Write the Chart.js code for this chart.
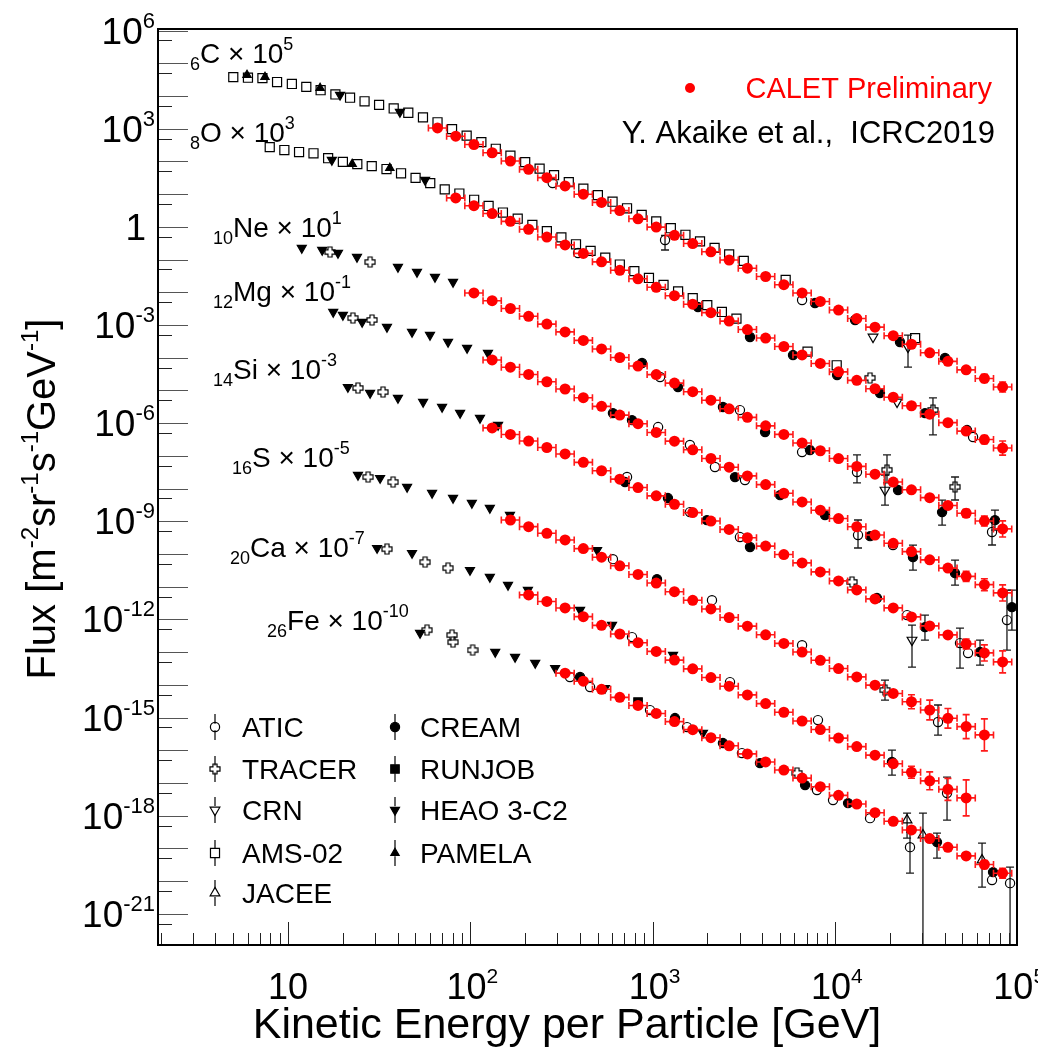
<!DOCTYPE html>
<html>
<head>
<meta charset="utf-8">
<script src="https://cdn.jsdelivr.net/npm/chart.js@4.4.0/dist/chart.umd.min.js"></script>
<style>
  html, body { margin: 0; padding: 0; background: #fff; }
  #wrap { width: 1038px; height: 1049px; position: relative; }
</style>
</head>
<body>
<div id="wrap"><canvas id="myChart"></canvas></div>
<script>
var FONT = '"Liberation Sans", Arial, Helvetica, sans-serif';

// CALET energy bins [GeV], common grid
var caletE = [66.1, 83.2, 104.7, 131.8, 166.0, 208.9, 263.0, 331.1, 416.9, 524.8, 660.7, 831.8,
  1047, 1318, 1660, 2089, 2630, 3311, 4169, 5248, 6607, 8318, 10471, 13183, 16596, 20893,
  26303, 33113, 41687, 52481, 66069, 83176];

// CALET fluxes (already multiplied by the scale factor written in the label)
var caletC = [1.06e3, 594, 331, 185, 103, 57.5, 32.1, 17.9, 10.0, 5.62, 3.15, 1.77, 0.989, 0.553, 0.310, 0.174,
  0.0975, 0.0546, 0.0305, 0.0171, 9.59e-3, 5.26e-3, 2.88e-3, 1.58e-3, 8.63e-4, 4.73e-4, 2.59e-4, 1.42e-4,
  7.78e-5, 4.27e-5, 2.33e-5, 1.28e-5];
var caletO = [7.71, 4.45, 2.56, 1.48, 0.849, 0.490, 0.282, 0.155, 0.0855, 0.0472, 0.0260, 0.0143, 7.89e-3,
  4.35e-3, 2.40e-3, 1.32e-3, 7.28e-4, 4.01e-4, 2.21e-4, 1.22e-4, 6.71e-5, 3.71e-5, 2.04e-5, 1.13e-5, 6.21e-6,
  3.42e-6, 1.89e-6, 1.04e-6, 5.73e-7, 3.16e-7, 1.74e-7];
var caletNe = [9.59e-3, 5.55e-3, 3.21e-3, 1.85e-3, 1.07e-3, 6.19e-4, 3.40e-4, 1.86e-4, 1.02e-4, 5.58e-5, 3.06e-5,
  1.68e-5, 9.20e-6, 5.04e-6, 2.76e-6, 1.51e-6, 8.30e-7, 4.55e-7, 2.49e-7, 1.44e-7, 8.30e-8, 4.79e-8, 2.76e-8,
  1.59e-8, 9.20e-9, 5.31e-9, 3.06e-9, 1.77e-9, 1.02e-9, 5.87e-10];
var caletMg = [8.59e-5, 5.15e-5, 3.09e-5, 1.85e-5, 1.11e-5, 6.03e-6, 3.27e-6, 1.77e-6, 9.64e-7, 5.22e-7, 2.83e-7,
  1.54e-7, 8.34e-8, 4.52e-8, 2.45e-8, 1.33e-8, 7.23e-9, 3.92e-9, 2.19e-9, 1.22e-9, 6.84e-10, 3.82e-10, 2.13e-10,
  1.19e-10, 6.65e-11, 3.72e-11, 2.08e-11, 1.16e-11, 6.49e-12];
var caletSi = [7.18e-7, 4.54e-7, 2.86e-7, 1.81e-7, 1.15e-7, 6.35e-8, 3.52e-8, 1.95e-8, 1.08e-8, 6.01e-9, 3.33e-9,
  1.85e-9, 1.02e-9, 5.68e-10, 3.15e-10, 1.75e-10, 9.68e-11, 5.37e-11, 2.85e-11, 1.51e-11, 8.02e-12, 4.26e-12,
  2.26e-12, 1.20e-12, 6.37e-13, 3.38e-13, 1.79e-13, 9.51e-14, 5.05e-14];
var caletS = [1.10e-9, 6.89e-10, 4.31e-10, 2.70e-10, 1.47e-10, 8.02e-11, 4.38e-11, 2.38e-11, 1.30e-11, 7.08e-12,
  3.86e-12, 2.10e-12, 1.15e-12, 6.25e-13, 3.41e-13, 1.86e-13, 1.01e-13, 5.66e-14, 3.16e-14, 1.76e-14, 9.84e-15,
  5.48e-15, 3.06e-15, 1.71e-15, 9.55e-16, 5.32e-16, 2.97e-16];
var caletCa = [5.64e-12, 3.56e-12, 2.25e-12, 1.22e-12, 6.62e-13, 3.60e-13, 1.95e-13, 1.06e-13, 5.73e-14, 3.10e-14,
  1.68e-14, 9.14e-15, 4.95e-15, 2.69e-15, 1.46e-15, 7.89e-16, 4.33e-16, 2.37e-16, 1.30e-16, 7.13e-17, 3.90e-17,
  2.14e-17, 1.17e-17, 6.43e-18, 3.52e-18];
var caletFe = [2.29e-14, 1.30e-14, 7.35e-15, 4.17e-15, 2.36e-15, 1.34e-15, 7.57e-16, 4.29e-16, 2.43e-16, 1.38e-16,
  7.80e-17, 4.42e-17, 2.50e-17, 1.42e-17, 7.73e-18, 4.21e-18, 2.29e-18, 1.24e-18, 6.78e-19, 3.69e-19, 2.01e-19,
  1.09e-19, 5.94e-20, 3.24e-20, 1.76e-20];

// first CALET bin of each element
var caletFirst = [0, 1, 2, 3, 3, 4, 5, 7];
// relative flux errors of the last few CALET points of each element
var errC = [0.24, 0.33, 0.42];
var errO = [0.24, 0.33, 0.64];
var errNe = [0.33, 0.42, 0.76];
var errMg = [0.42, 0.52, 0.76];
var errSi = [0.42, 0.76, 1.17];
var errS = [0.64, 1.0, 1.0, 1.33, 2.08];
var errCa = [0.52, 0.88, 1.17, 2.55];
var errFe = [0.24, 0.33, 0.42];

// other experiments: [E, flux] or [E, flux, low, high]
var atic = [
  [283, 22.0], [1170, 0.397, 0.197, 0.55], [6606, 5.82e-3],
  [390, 0.159], [57270, 3.78e-7],
  [1099, 2.58e-5], [3014, 2.52e-6], [6606, 1.31e-7], [13220, 3.21e-8, 1.49e-8, 1.07e-7], [72770, 4.71e-10, 1.89e-10, 1.10e-9],
  [1072, 7.62e-7], [1603, 2.15e-7], [2198, 4.57e-8], [3212, 1.83e-8], [13390, 3.81e-10, 1.53e-10, 1.10e-9],
  [20830, 1.88e-10], [87870, 9.59e-13, 1.16e-13, 7.93e-12],
  [724, 2.26e-8], [1603, 1.92e-9], [3014, 3.31e-10], [24880, 1.36e-12], [48550, 1.90e-13, 3.27e-14, 5.47e-13], [53760, 9.40e-14],
  [606, 6.98e-11], [2117, 3.90e-12], [6606, 1.64e-13], [36790, 7.35e-16, 2.94e-16, 2.43e-15],
  [771, 2.90e-13], [2658, 1.22e-14], [8075, 8.41e-16], [41220, 4.93e-18, 7.38e-19, 1.52e-17],
  [352, 1.74e-14], [454, 8.59e-15], [968, 1.70e-15], [1545, 5.14e-16], [3091, 8.24e-17], [7973, 6.10e-18],
  [9766, 3.01e-18], [15590, 8.47e-19], [25820, 1.10e-19, 1.77e-20, 3.17e-19], [72770, 1.08e-20], [91380, 8.73e-21, 1e-24, 2.70e-20]
];
var tracer = [
  [15590, 2.42e-5], [34510, 2.54e-6, 4.38e-7, 5.92e-6],
  [17.0, 0.171], [28.2, 0.0845], [19310, 3.73e-8, 1.49e-8, 1.07e-7], [45610, 1.13e-8, 4.50e-9, 2.27e-8],
  [22.7, 1.64e-3], [28.9, 1.43e-3],
  [24.2, 1.19e-5], [33.2, 8.97e-6], [12420, 1.40e-11],
  [27.5, 2.26e-8], [37.7, 1.59e-8], [18830, 6.98e-15, 3.45e-15, 1.41e-14],
  [34.9, 1.42e-10], [56.5, 5.69e-11], [75.5, 3.73e-11],
  [57.9, 4.75e-13], [79.4, 3.34e-13], [80.4, 2.04e-13], [103, 1.16e-13], [6199, 2.03e-17]
];
var crn = [
  [16190, 4.31e-4], [25180, 2.13e-4, 5.21e-5, 4.95e-4],
  [21920, 4.47e-6],
  [18830, 9.04e-9, 3.15e-9, 2.60e-8],
  [26480, 2.35e-13, 3.52e-14, 6.76e-13]
];
var ams = [
  [5.01, 3.80e4], [6.03, 3.63e4], [7.24, 3.55e4], [8.71, 2.69e4], [10.5, 2.34e4], [12.6, 1.91e4], [15.1, 1.51e4],
  [18.2, 1.12e4], [21.9, 8.91e3], [26.3, 6.92e3], [31.6, 5.37e3], [38.0, 4.17e3], [45.7, 3.09e3], [55.0, 2.24e3],
  [66.1, 1.58e3], [79.4, 977], [95.5, 617], [115, 389], [138, 245], [166, 151], [200, 95.5], [240, 60.3], [288, 38.0],
  [347, 23.4], [417, 14.8], [501, 9.33], [603, 5.89], [724, 3.72], [871, 2.34], [1047, 1.48], [1259, 0.912],
  [1514, 0.575], [1820, 0.363], [2188, 0.229], [2630, 0.145], [3162, 0.0912], [5370, 0.0240], [27540, 3.98e-4],
  [7.94, 275], [9.55, 224], [11.5, 195], [13.8, 178], [16.6, 126], [20.0, 97.7], [24.0, 83.2], [28.8, 72.4],
  [34.7, 58.9], [41.7, 43.7], [50.1, 31.6], [60.3, 21.9], [72.4, 14.1], [87.1, 10.5], [105, 6.76], [126, 4.37],
  [151, 2.75], [182, 1.78], [219, 1.15], [263, 0.741], [316, 0.479], [380, 0.295], [457, 0.186], [550, 0.115],
  [661, 0.0708], [794, 0.0447], [955, 0.0275], [1148, 0.0170], [1380, 0.0107], [1660, 6.61e-3], [1995, 4.07e-3],
  [2399, 2.51e-3], [2884, 1.58e-3], [7079, 1.55e-4], [10230, 5.89e-5]
];
var jacee = [
  [24880, 7.38e-19, 2.08e-19, 1.21e-18], [30410, 2.57e-19, 1e-24, 1.21e-18], [64140, 4.43e-20, 6.59e-21, 1.46e-19]
];
var cream = [
  [7776, 4.71e-3], [12900, 1.43e-3], [22750, 3.03e-4], [40190, 9.82e-5],
  [1774, 3.56e-3], [3422, 4.31e-4], [5891, 1.21e-4], [10280, 2.96e-5], [17670, 8.34e-6], [31190, 2.04e-6], [53060, 6.17e-7],
  [875, 6.90e-5], [1378, 1.27e-5], [2432, 3.12e-6], [4140, 5.37e-7], [7302, 1.51e-7], [22200, 9.04e-9],
  [38720, 1.92e-9, 7.71e-10, 4.48e-9], [75510, 1.09e-9, 5.42e-10, 2.21e-9],
  [606, 2.04e-6], [771, 1.24e-6], [2831, 2.25e-8], [5003, 6.33e-9], [8826, 1.55e-9], [15590, 3.53e-10],
  [26810, 8.06e-11, 3.24e-11, 1.88e-10], [45610, 2.61e-11, 1.13e-11, 6.55e-11], [93550, 2.38e-12, 4.74e-13, 7.93e-12],
  [706, 1.59e-8], [1214, 5.15e-9], [1986, 1.09e-9], [3422, 1.64e-10], [17020, 4.52e-12],
  [31190, 5.86e-13, 2.35e-13, 1.36e-12], [62530, 1.01e-13, 4.05e-14, 2.35e-13],
  [1057, 1.71e-11],
  [20560, 4.39e-17, 1.75e-17, 1.02e-16],
  [400, 1.74e-14], [1327, 9.70e-16], [2432, 1.67e-16], [3882, 4.08e-17], [6859, 8.67e-18], [11810, 2.44e-18],
  [36310, 1.57e-19, 5.08e-20, 2.95e-19], [73690, 1.90e-20]
];
var runjob = [[832, 2.99e-15]];
var heao = [
  [19.3, 1.08e4], [41.1, 3.26e3], [17.4, 111], [56.5, 27.2],
  [11.9, 0.226], [15.4, 0.197], [18.8, 0.159], [23.9, 0.120], [40.1, 0.0594], [51.0, 0.0418], [64.0, 0.0294], [80.4, 0.0207],
  [17.7, 2.50e-3], [20.0, 2.03e-3], [25.5, 1.24e-3], [34.9, 8.71e-4], [47.9, 6.12e-4], [60.1, 4.95e-4], [75.5, 3.03e-4],
  [96.0, 1.99e-4], [125, 1.40e-4],
  [21.3, 1.27e-5], [28.2, 8.35e-6], [40.1, 5.87e-6], [55.1, 4.43e-6], [70.0, 3.12e-6], [87.9, 2.05e-6], [113, 1.44e-6], [142, 8.79e-7],
  [24.2, 2.60e-8], [32.0, 2.10e-8], [45.0, 1.12e-8], [61.7, 7.33e-9], [80.4, 5.15e-9], [102, 3.62e-9], [128, 2.55e-9],
  [165, 1.56e-9], [496, 1.32e-10],
  [30.8, 1.52e-10], [47.9, 1.07e-10], [99.6, 3.24e-11], [128, 1.98e-11], [161, 1.13e-11], [207, 7.93e-12],
  [400, 1.95e-12], [599, 6.79e-13], [1294, 8.20e-14],
  [53.0, 3.85e-13], [137, 1.01e-13], [176, 7.10e-14], [227, 4.66e-14], [292, 3.27e-14], [548, 8.0e-15], [1888, 3.40e-16]
];
var pamela = [[5.96, 4.41e4], [7.48, 3.83e4], [15.0, 1.76e4], [22.5, 83.8], [36.2, 63.2]];

var yTickExp = [6, 3, 0, -3, -6, -9, -12, -15, -18, -21];
var xTickExp = [1, 2, 3, 4, 5];

// ---------- helpers ----------
var binHalf = 1.122; // half of a 0.1-decade bin

function openCross(size) {
  var c = document.createElement('canvas');
  c.width = size; c.height = size;
  var g = c.getContext('2d');
  var m = size / 2, w = size * 0.17, s = size / 2 - 1;
  g.beginPath();
  g.moveTo(m - w, m - s); g.lineTo(m + w, m - s); g.lineTo(m + w, m - w); g.lineTo(m + s, m - w);
  g.lineTo(m + s, m + w); g.lineTo(m + w, m + w); g.lineTo(m + w, m + s); g.lineTo(m - w, m + s);
  g.lineTo(m - w, m + w); g.lineTo(m - s, m + w); g.lineTo(m - s, m - w); g.lineTo(m - w, m - w);
  g.closePath();
  g.strokeStyle = '#000'; g.lineWidth = 1.2; g.stroke();
  return c;
}
var crossImg = openCross(12);

function caletSet(flux, first, tail) {
  var data = [], rel = [];
  for (var i = 0; i < flux.length; i++) {
    data.push({ x: caletE[first + i], y: flux[i] });
    var k = i - (flux.length - tail.length);
    rel.push(k >= 0 ? tail[k] : 0);
  }
  return {
    label: 'CALET', data: data, relErr: rel, calet: true, showLine: false,
    pointStyle: 'circle', pointRadius: 5.5, pointBackgroundColor: '#ff0000', pointBorderWidth: 0
  };
}

var hollow = 'rgba(0,0,0,0)';
var styles = {
  ATIC: { ps: 'circle', r: 4.6, fill: hollow },
  TRACER: { ps: crossImg, r: 5, fill: hollow },
  CRN: { ps: 'triangle', r: 5.6, rot: 180, fill: hollow },
  'AMS-02': { ps: 'rect', r: 6.4, fill: hollow },
  JACEE: { ps: 'triangle', r: 5.6, fill: hollow },
  CREAM: { ps: 'circle', r: 4.6, fill: '#000' },
  RUNJOB: { ps: 'rect', r: 6.0, fill: '#000' },
  'HEAO 3-C2': { ps: 'triangle', r: 5.2, rot: 180, fill: '#000' },
  PAMELA: { ps: 'triangle', r: 4.8, fill: '#000' }
};

function expSet(name, rows) {
  var st = styles[name];
  return {
    label: name, showLine: false,
    data: rows.map(function (r) { return { x: r[0], y: r[1] }; }),
    errs: rows.map(function (r) { return r.length > 2 ? [r[2], r[3]] : null; }),
    pointStyle: st.ps, pointRadius: st.r, pointRotation: st.rot || 0,
    pointBackgroundColor: st.fill, pointBorderColor: '#000', pointBorderWidth: 1.2
  };
}

function drawRich(ctx, parts, x, y, align) {
  var w = 0;
  parts.forEach(function (p) { ctx.font = p[1] + 'px ' + FONT; w += ctx.measureText(p[0]).width; });
  var cx = align === 'right' ? x - w : (align === 'center' ? x - w / 2 : x);
  parts.forEach(function (p) {
    ctx.font = p[1] + 'px ' + FONT;
    ctx.fillText(p[0], cx, y + (p[2] || 0));
    cx += ctx.measureText(p[0]).width;
  });
}

function legendMarker(ctx, name, x, y) {
  var st = styles[name];
  var r = st.r;
  ctx.save();
  ctx.strokeStyle = '#000'; ctx.fillStyle = '#000'; ctx.lineWidth = 1.2;
  ctx.beginPath(); ctx.moveTo(x, y - 13); ctx.lineTo(x, y - r * 0.7);
  ctx.moveTo(x, y + r * 0.7); ctx.lineTo(x, y + 13); ctx.stroke();
  if (typeof st.ps === 'object') {
    ctx.drawImage(st.ps, x - st.ps.width / 2, y - st.ps.height / 2);
    ctx.restore();
    return;
  }
  ctx.beginPath();
  if (st.ps === 'circle') {
    ctx.arc(x, y, r, 0, Math.PI * 2);
  } else if (st.ps === 'rect') {
    var s = r * Math.SQRT1_2;
    ctx.rect(x - s, y - s, 2 * s, 2 * s);
  } else {
    var a = (st.rot || 0) * Math.PI / 180;
    for (var i = 0; i < 3; i++) {
      var px = x + Math.sin(a) * r, py = y - Math.cos(a) * r;
      if (i === 0) ctx.moveTo(px, py); else ctx.lineTo(px, py);
      a += Math.PI * 2 / 3;
    }
    ctx.closePath();
  }
  if (st.fill === '#000') ctx.fill();
  ctx.stroke();
  ctx.restore();
}

// ---------- plugins ----------
var errorBars = {
  id: 'errorBars',
  beforeDatasetDraw: function (chart, args) {
    var ds = chart.data.datasets[args.index];
    var xs = chart.scales.x, ys = chart.scales.y, ctx = chart.ctx, a = chart.chartArea;
    ctx.save();
    ctx.beginPath(); ctx.rect(a.left, a.top, a.right - a.left, a.bottom - a.top); ctx.clip();
    if (ds.calet) {
      ctx.strokeStyle = '#ff1a1a'; ctx.lineWidth = 1.6;
      ds.data.forEach(function (p, i) {
        var x1 = xs.getPixelForValue(p.x / binHalf), x2 = xs.getPixelForValue(p.x * binHalf);
        var px = xs.getPixelForValue(p.x), py = ys.getPixelForValue(p.y);
        ctx.beginPath();
        ctx.moveTo(x1, py); ctx.lineTo(x2, py);
        ctx.moveTo(x1, py - 3.5); ctx.lineTo(x1, py + 3.5);
        ctx.moveTo(x2, py - 3.5); ctx.lineTo(x2, py + 3.5);
        var r = ds.relErr[i];
        if (r > 0) {
          var y1 = ys.getPixelForValue(p.y * (1 + r)), y2 = ys.getPixelForValue(p.y / (1 + r));
          ctx.moveTo(px, y1); ctx.lineTo(px, y2);
          ctx.moveTo(px - 3.5, y1); ctx.lineTo(px + 3.5, y1);
          ctx.moveTo(px - 3.5, y2); ctx.lineTo(px + 3.5, y2);
        }
        ctx.stroke();
      });
    } else if (ds.errs) {
      ctx.strokeStyle = '#1a1a1a'; ctx.lineWidth = 1.3;
      ds.data.forEach(function (p, i) {
        var e = ds.errs[i];
        if (!e) return;
        var px = xs.getPixelForValue(p.x);
        var y1 = ys.getPixelForValue(e[1]), y2 = ys.getPixelForValue(e[0]);
        ctx.beginPath();
        ctx.moveTo(px, y1); ctx.lineTo(px, y2);
        ctx.moveTo(px - 4, y1); ctx.lineTo(px + 4, y1);
        ctx.moveTo(px - 4, y2); ctx.lineTo(px + 4, y2);
        ctx.stroke();
      });
    }
    ctx.restore();
  }
};

var decorations = {
  id: 'decorations',
  afterDraw: function (chart) {
    var ctx = chart.ctx, a = chart.chartArea, xs = chart.scales.x, ys = chart.scales.y;
    ctx.save();
    ctx.textAlign = 'left'; ctx.textBaseline = 'alphabetic';

    // y ticks: long at decades, short at 5 x 10^n
    ctx.lineWidth = 1;
    for (var n = -22; n <= 6; n++) {
      var yl = Math.round(ys.getPixelForValue(Math.pow(10, n))) + 0.5;
      if (yl > a.top && yl < a.bottom) {
        ctx.strokeStyle = '#555';
        ctx.beginPath(); ctx.moveTo(a.left, yl); ctx.lineTo(a.left + 30, yl); ctx.stroke();
      }
      var ysh = Math.round(ys.getPixelForValue(5 * Math.pow(10, n - 1))) + 0.5;
      if (ysh > a.top && ysh < a.bottom) {
        ctx.strokeStyle = '#222';
        ctx.beginPath(); ctx.moveTo(a.left, ysh); ctx.lineTo(a.left + 14, ysh); ctx.stroke();
      }
    }
    // x ticks
    ctx.strokeStyle = '#222';
    for (var d = 0; d <= 5; d++) {
      for (var m = 1; m <= 9; m++) {
        var v = m * Math.pow(10, d);
        var xp = Math.round(xs.getPixelForValue(v)) + 0.5;
        if (xp <= a.left || xp >= a.right) continue;
        ctx.beginPath(); ctx.moveTo(xp, a.bottom); ctx.lineTo(xp, a.bottom - (m === 1 ? 23 : 12)); ctx.stroke();
      }
    }
    // frame
    ctx.strokeStyle = '#000'; ctx.lineWidth = 2;
    ctx.strokeRect(a.left, a.top, a.right - a.left, a.bottom - a.top);

    ctx.fillStyle = '#000';
    // y tick labels
    yTickExp.forEach(function (e) {
      var yy = ys.getPixelForValue(Math.pow(10, e));
      if (e === 0) drawRich(ctx, [['1', 37]], 146, yy + 13, 'right');
      else drawRich(ctx, [['10', 37], [String(e), 22, -16]], 155, yy + 13, 'right');
    });
    // x tick labels
    xTickExp.forEach(function (e) {
      var xx = xs.getPixelForValue(Math.pow(10, e));
      if (e === 1) drawRich(ctx, [['10', 36]], xx, 999, 'center');
      else drawRich(ctx, [['10', 36], [String(e), 21, -16]], xx + 2, 999, 'center');
    });
    // axis titles
    drawRich(ctx, [['Kinetic Energy per Particle [GeV]', 43]], 567, 1038, 'center');
    ctx.save();
    ctx.translate(55, 499); ctx.rotate(-Math.PI / 2);
    drawRich(ctx, [['Flux [m', 40], ['-2', 24, -17], ['sr', 40], ['-1', 24, -17], ['s', 40], ['-1', 24, -17],
      ['GeV', 40], ['-1', 24, -17], [']', 40]], 0, 0, 'center');
    ctx.restore();

    // element labels
    var lab = [
      [190, 63, '6', 'C', '5'], [190, 142, '8', 'O', '3'], [213, 237, '10', 'Ne', '1'],
      [213, 301, '12', 'Mg', '-1'], [213, 379, '14', 'Si', '-3'], [232, 467, '16', 'S', '-5'],
      [230, 557, '20', 'Ca', '-7'], [267, 630, '26', 'Fe', '-10']
    ];
    lab.forEach(function (l) {
      drawRich(ctx, [[l[2], 18, 7], [l[3], 28], [' \u00d7 10', 28], [l[4], 18, -13]], l[0], l[1], 'left');
    });

    // CALET marker and reference
    ctx.fillStyle = '#ff0000';
    ctx.beginPath(); ctx.arc(690, 88, 5, 0, Math.PI * 2); ctx.fill();
    drawRich(ctx, [['CALET Preliminary', 29]], 992, 98, 'right');
    ctx.fillStyle = '#000';
    drawRich(ctx, [['Y. Akaike et al.,  ICRC2019', 31]], 995, 143, 'right');

    // legend
    var col1 = ['ATIC', 'TRACER', 'CRN', 'AMS-02', 'JACEE'];
    var col2 = ['CREAM', 'RUNJOB', 'HEAO 3-C2', 'PAMELA'];
    var rows = [727, 769, 810, 853, 893];
    col1.forEach(function (nm, i) {
      legendMarker(ctx, nm, 215, rows[i]);
      ctx.fillStyle = '#000';
      drawRich(ctx, [[nm, 28]], 242, rows[i] + 10, 'left');
    });
    col2.forEach(function (nm, i) {
      legendMarker(ctx, nm, 395, rows[i]);
      ctx.fillStyle = '#000';
      drawRich(ctx, [[nm, 28]], 420, rows[i] + 10, 'left');
    });
    ctx.restore();
  }
};

// ---------- chart ----------
var datasets = [
  caletSet(caletC, caletFirst[0], errC),
  caletSet(caletO, caletFirst[1], errO),
  caletSet(caletNe, caletFirst[2], errNe),
  caletSet(caletMg, caletFirst[3], errMg),
  caletSet(caletSi, caletFirst[4], errSi),
  caletSet(caletS, caletFirst[5], errS),
  caletSet(caletCa, caletFirst[6], errCa),
  caletSet(caletFe, caletFirst[7], errFe),
  expSet('CREAM', cream),
  expSet('ATIC', atic),
  expSet('TRACER', tracer),
  expSet('CRN', crn),
  expSet('JACEE', jacee),
  expSet('RUNJOB', runjob),
  expSet('PAMELA', pamela),
  expSet('HEAO 3-C2', heao),
  expSet('AMS-02', ams)
];

new Chart('myChart', {
  type: 'scatter',
  data: { datasets: datasets },
  options: {
    responsive: true,
    maintainAspectRatio: false,
    animation: false,
    events: [],
    layout: { padding: { left: 158, top: 29, right: 21, bottom: 104 } },
    scales: {
      x: { type: 'logarithmic', min: 1.936, max: 99750, display: false },
      y: { type: 'logarithmic', min: 1.122e-22, max: 1.122e6, display: false }
    },
    plugins: {
      legend: { display: false },
      tooltip: { enabled: false }
    }
  },
  plugins: [errorBars, decorations]
});
</script>
</body>
</html>
